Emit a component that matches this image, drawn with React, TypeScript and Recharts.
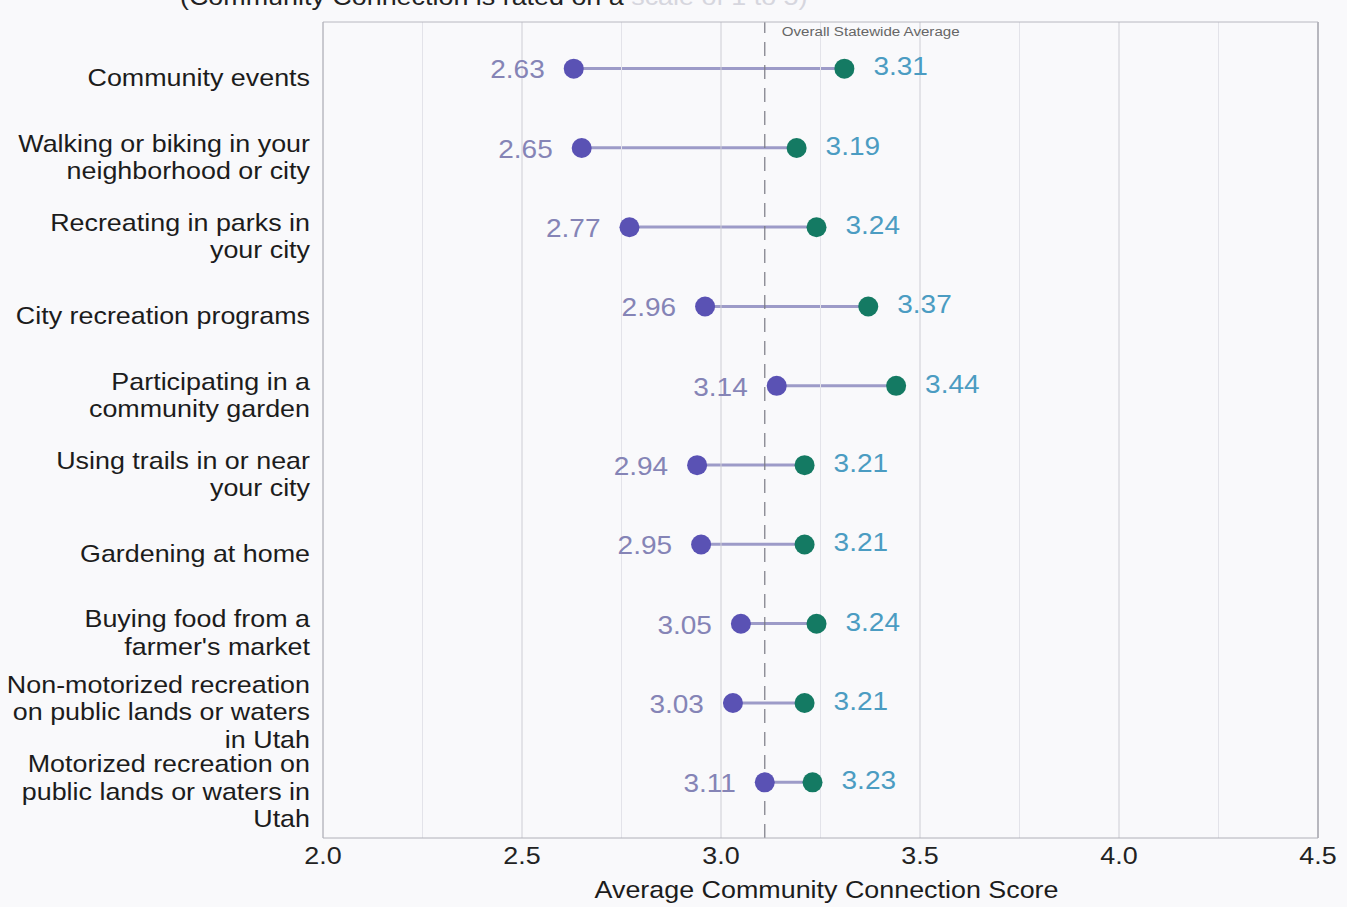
import React from "react";
import {
  ComposedChart,
  Bar,
  Scatter,
  XAxis,
  YAxis,
  ReferenceLine,
} from "recharts";

// ---- data ----
const categories = [
  "Community events",
  "Walking or biking in your\nneighborhood or city",
  "Recreating in parks in\nyour city",
  "City recreation programs",
  "Participating in a\ncommunity garden",
  "Using trails in or near\nyour city",
  "Gardening at home",
  "Buying food from a\nfarmer's market",
  "Non-motorized recreation\non public lands or waters\nin Utah",
  "Motorized recreation on\npublic lands or waters in\nUtah",
];
const lowScores = [2.63, 2.65, 2.77, 2.96, 3.14, 2.94, 2.95, 3.05, 3.03, 3.11];
const highScores = [3.31, 3.19, 3.24, 3.37, 3.44, 3.21, 3.21, 3.24, 3.21, 3.23];
const statewideAverage = 3.11;
const xTicks = [2.0, 2.5, 3.0, 3.5, 4.0, 4.5];
const gridTicks = [2.0, 2.25, 2.5, 2.75, 3.0, 3.25, 3.5, 3.75, 4.0, 4.25, 4.5];
const xDomain = [2.0, 4.5];
const averageLabel = "Overall Statewide Average";
const xAxisTitle = "Average Community Connection Score";
const titleVisible = "(Community Connection is rated on a";
const titleFaded = " scale of 1 to 5)";

const data = categories.map((c, i) => ({
  category: c,
  low: lowScores[i],
  high: highScores[i],
}));

// ---- style ----
const FONT = '"Liberation Sans", Arial, Helvetica, sans-serif';
const STRETCH = 1.12;
const LOW_DOT = "#5a52b4";
const HIGH_DOT = "#147a63";
const LOW_TEXT = "#8584b6";
const HIGH_TEXT = "#4b9cc2";
const CONNECTOR = "#9d9bc8";

function SText(props: any) {
  const { x, y, anchor, size, fill, children } = props;
  return (
    <text
      transform={`translate(${x},${y}) scale(${STRETCH},1)`}
      x={0}
      y={0}
      dy="0.35em"
      textAnchor={anchor}
      fontSize={size}
      fill={fill}
      fontFamily={FONT}
    >
      {children}
    </text>
  );
}

function YTick(props: any) {
  const { x, y, payload } = props;
  const lines = String(payload.value).split("\n");
  const lh = 27.5;
  const start = y + 9 - ((lines.length - 1) * lh) / 2;
  return (
    <g>
      {lines.map((l, i) => (
        <SText key={i} x={x - 13} y={start + i * lh} anchor="end" size={24} fill="#1c1c1c">
          {l}
        </SText>
      ))}
    </g>
  );
}

function XTick(props: any) {
  const { x, y, payload } = props;
  return (
    <SText x={x} y={y + 18} anchor="middle" size={24} fill="#222">
      {Number(payload.value).toFixed(1)}
    </SText>
  );
}

function LowDot(props: any) {
  const { cx, cy, payload } = props;
  return (
    <g>
      <circle cx={cx} cy={cy} r={10} fill={LOW_DOT} />
      <SText x={cx - 29} y={cy + 1} anchor="end" size={25} fill={LOW_TEXT}>
        {payload.low.toFixed(2)}
      </SText>
    </g>
  );
}

function HighDot(props: any) {
  const { cx, cy, payload } = props;
  return (
    <g>
      <circle cx={cx} cy={cy} r={10} fill={HIGH_DOT} />
      <SText x={cx + 29} y={cy - 2} anchor="start" size={25} fill={HIGH_TEXT}>
        {payload.high.toFixed(2)}
      </SText>
    </g>
  );
}

function AvgLabel(props: any) {
  const vb = props.viewBox || {};
  return (
    <SText x={vb.x + 17} y={vb.y + 9} anchor="start" size={13.5} fill="#666">
      {averageLabel}
    </SText>
  );
}

function AxisTitle(props: any) {
  const vb = props.viewBox || {};
  return (
    <SText x={vb.x + vb.width / 2 + 6} y={vb.y + 52} anchor="middle" size={24} fill="#1c1c1c">
      {xAxisTitle}
    </SText>
  );
}

export default function App() {
  return (
    <div
      style={{
        position: "absolute",
        left: 0,
        top: 0,
        width: 1347,
        height: 907,
        overflow: "hidden",
        background: "#f9f9fb",
      }}
    >
      <div
        style={{
          position: "absolute",
          left: 180,
          top: -15,
          fontFamily: FONT,
          fontSize: 24,
          lineHeight: "24px",
          whiteSpace: "nowrap",
          transform: `scaleX(${STRETCH})`,
          transformOrigin: "left top",
          color: "#222",
        }}
      >
        {titleVisible}
        <span style={{ color: "#d6d6de" }}>{titleFaded}</span>
      </div>
      <div style={{ position: "absolute", left: 0, top: 0 }}>
        <ComposedChart
          width={1347}
          height={907}
          data={data}
          layout="vertical"
          margin={{ top: 21, right: 29, bottom: 0, left: 0 }}
        >
          <XAxis
            xAxisId="top"
            orientation="top"
            type="number"
            domain={xDomain}
            ticks={xTicks}
            allowDataOverflow
            tick={false}
            tickLine={false}
            height={1}
            axisLine={{ stroke: "#b8b8c0" }}
          />
          <XAxis
            type="number"
            domain={xDomain}
            ticks={xTicks}
            allowDataOverflow
            tickLine={false}
            tickSize={0}
            tickMargin={0}
            height={69}
            axisLine={{ stroke: "#b0b0b8" }}
            tick={(p: any) => <XTick {...p} />}
            label={(p: any) => <AxisTitle {...p} />}
          />
          <YAxis
            type="category"
            dataKey="category"
            width={323}
            padding={{ top: 7, bottom: 16 }}
            tickLine={false}
            tickSize={0}
            tickMargin={0}
            axisLine={{ stroke: "#b0b0b8" }}
            interval={0}
            tick={(p: any) => <YTick {...p} />}
          />
          {gridTicks.map((g) => (
            <ReferenceLine
              key={g}
              x={g}
              stroke={xTicks.includes(g) ? "#cdcdd4" : "#e3e3e9"}
              strokeWidth={1}
            />
          ))}
          <ReferenceLine x={4.5} stroke="#a8a8b0" strokeWidth={1.5} />
          <ReferenceLine
            x={statewideAverage}
            stroke="#7a7a84"
            strokeWidth={1.2}
            strokeDasharray="14 9"
            label={(p: any) => <AvgLabel {...p} />}
          />
          <Bar
            dataKey={(d: any) => [d.low, d.high]}
            barSize={3}
            fill={CONNECTOR}
            isAnimationActive={false}
          />
          <Scatter dataKey="low" shape={(p: any) => <LowDot {...p} />} isAnimationActive={false} />
          <Scatter dataKey="high" shape={(p: any) => <HighDot {...p} />} isAnimationActive={false} />
        </ComposedChart>
      </div>
    </div>
  );
}
